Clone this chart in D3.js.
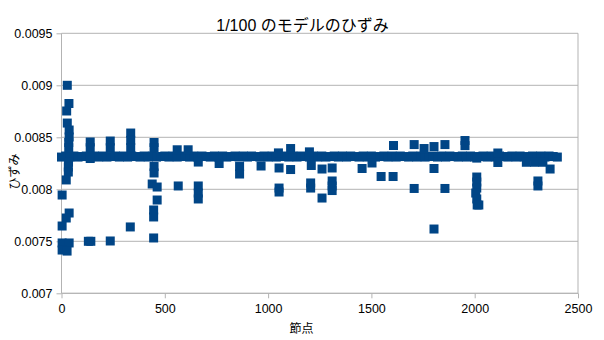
<!DOCTYPE html>
<html>
<head>
<meta charset="utf-8">
<script src="https://cdn.jsdelivr.net/npm/d3@7/dist/d3.min.js"></script>
<style>
  html, body { margin: 0; padding: 0; background: #fff; }
  svg { display: block; }
  text { font-family: "Liberation Sans", "Noto Sans CJK JP", sans-serif; fill: #000; }
</style>
</head>
<body>
<svg id="chart" width="604" height="340"></svg>
<script>
// Strain per node for the 1/100 model
const titleText = "1/100 のモデルのひずみ";
const xTitle = "節点";
const yTitle = "ひずみ";

const xTicks = [0, 500, 1000, 1500, 2000, 2500];
const yTicks = [0.007, 0.0075, 0.008, 0.0085, 0.009, 0.0095];
const yTickLabels = ["0.007", "0.0075", "0.008", "0.0085", "0.009", "0.0095"];

// Nodes along the main band
const bandNodes = [
  0, 20, 40, 60, 80, 100, 120, 140, 160, 180,
  200, 220, 240, 260, 280, 300, 320, 340, 360, 380,
  400, 420, 440, 460, 480, 500, 520, 540, 560, 580,
  600, 620, 640, 660, 680, 700, 720, 740, 760, 780,
  800, 820, 840, 860, 880, 900, 920, 940, 960, 980,
  1000, 1020, 1040, 1060, 1080, 1100, 1120, 1140, 1160, 1180,
  1200, 1220, 1240, 1260, 1280, 1300, 1320, 1340, 1360, 1380,
  1400, 1420, 1440, 1460, 1480, 1500, 1520, 1540, 1560, 1580,
  1600, 1620, 1640, 1660, 1680, 1700, 1720, 1740, 1760, 1780,
  1800, 1820, 1840, 1860, 1880, 1900, 1920, 1940, 1960, 1980,
  2000, 2020, 2040, 2060, 2080, 2100, 2120, 2140, 2160, 2180,
  2200, 2220, 2240, 2260, 2280, 2300, 2320, 2340, 2360, 2380,
  2400
];
const bandStrain = [
  0.00831, 0.00832, 0.00831, 0.00832, 0.00831, 0.008315, 0.00832, 0.00831, 0.00832, 0.00831,
  0.00832, 0.00831, 0.008315, 0.00832, 0.00831, 0.00832, 0.00831, 0.00832, 0.008315, 0.00831,
  0.00832, 0.00831, 0.00832, 0.00831, 0.008315, 0.00832, 0.00831, 0.00832, 0.00831, 0.00832,
  0.008315, 0.00831, 0.00832, 0.00831, 0.00832, 0.008315, 0.00831, 0.00832, 0.00831, 0.00832,
  0.00831, 0.008315, 0.00832, 0.00831, 0.00832, 0.00831, 0.00832, 0.008315, 0.00831, 0.00832,
  0.00831, 0.00832, 0.00831, 0.008315, 0.00832, 0.00831, 0.00832, 0.00831, 0.00832, 0.008315,
  0.00831, 0.00832, 0.00831, 0.00832, 0.00831, 0.008315, 0.00832, 0.00831, 0.00832, 0.00831,
  0.00832, 0.008315, 0.00831, 0.00832, 0.00831, 0.00832, 0.00831, 0.008315, 0.00832, 0.00831,
  0.00832, 0.00831, 0.00832, 0.008315, 0.00831, 0.00832, 0.00831, 0.00832, 0.00831, 0.008315,
  0.00832, 0.00831, 0.00832, 0.00831, 0.00832, 0.008315, 0.00831, 0.00832, 0.00831, 0.00832,
  0.00831, 0.008315, 0.00832, 0.00831, 0.00832, 0.00831, 0.00832, 0.008315, 0.00831, 0.00832,
  0.00831, 0.00832, 0.00831, 0.008315, 0.00832, 0.00831, 0.00832, 0.00831, 0.00832, 0.008315,
  0.00831
];

// Nodes whose strain departs from the band
const outNode = [
  28, 36, 25, 28, 37, 37, 35, 35, 34, 33, 33, 23, 3, 37, 23, 3, 3, 37, 3, 27,
  139, 139, 139, 130, 142,
  236, 236, 236,
  335, 335, 335, 333,
  448, 448, 448, 448, 439, 463, 463, 446, 446, 446,
  560, 613, 565,
  662, 662, 662, 662,
  763, 862, 862, 966,
  1050, 1053, 1053, 1053,
  1109, 1109,
  1200, 1209, 1206, 1206,
  1261, 1261,
  1310, 1310, 1310, 1310,
  1455, 1503, 1547, 1605, 1607,
  1707, 1707, 1755,
  1803, 1803, 1803,
  1856, 1856,
  1953, 1953,
  2010, 2010, 2010, 2010, 2005, 2010, 2020, 2012,
  2112, 2112,
  2250, 2290, 2330,
  2306, 2306, 2365
];
const outStrain = [
  0.00900, 0.008825, 0.008753, 0.008637, 0.00857, 0.008503, 0.00845, 0.0084, 0.00826, 0.008214, 0.008166, 0.00809, 0.007945, 0.007772, 0.007724, 0.007647, 0.007484, 0.007484, 0.007416, 0.007406,
  0.008455, 0.0084, 0.008296, 0.0075, 0.0075,
  0.008464, 0.0084, 0.007503,
  0.008541, 0.00847, 0.0084, 0.007638,
  0.00845, 0.0084, 0.008219, 0.008157, 0.008051, 0.008022, 0.007897, 0.007801, 0.007734, 0.007532,
  0.00838, 0.00838, 0.008032,
  0.008262, 0.008032, 0.007964, 0.007907,
  0.008248, 0.008219, 0.008147, 0.008224,
  0.00835, 0.008205, 0.008012, 0.007974,
  0.008392, 0.00819,
  0.00836, 0.008229, 0.008061, 0.008012,
  0.008195, 0.007916,
  0.008205, 0.00808, 0.008032, 0.007988,
  0.0082, 0.008253, 0.008123, 0.008123, 0.008421,
  0.00843, 0.008008, 0.008392,
  0.008411, 0.0082, 0.007618,
  0.00843, 0.008008,
  0.008469, 0.00842,
  0.0083, 0.008118, 0.00807, 0.008012, 0.007964, 0.007907, 0.007849, 0.007849,
  0.008349, 0.008258,
  0.00826, 0.00826, 0.00826,
  0.00808, 0.008032, 0.008195
];

const points = bandNodes.map((n, i) => ({ node: n, strain: bandStrain[i] }))
  .concat(outNode.map((n, i) => ({ node: n, strain: outStrain[i] })));

const svg = d3.select("#chart");
const plotLeft = 61.5, plotRight = 578, plotTop = 33.3, plotBottom = 293.3;
const gridColor = "#b3b3b3";
const markColor = "#004586";
const markSize = 9;

const x = d3.scaleLinear().domain([0, 2500]).range([plotLeft, plotRight]);
const y = d3.scaleLinear().domain([0.007, 0.0095]).range([plotBottom, plotTop]);

svg.append("rect").attr("width", 604).attr("height", 340).attr("fill", "#fff");

// Horizontal grid
svg.append("g")
  .selectAll("line")
  .data(yTicks)
  .join("line")
  .attr("x1", plotLeft).attr("x2", plotRight)
  .attr("y1", d => y(d)).attr("y2", d => y(d))
  .attr("stroke", gridColor).attr("stroke-width", 1);

// Right border of the plot area
svg.append("line")
  .attr("x1", plotRight).attr("x2", plotRight)
  .attr("y1", plotTop).attr("y2", plotBottom)
  .attr("stroke", gridColor);

// Y axis
const yAxis = d3.axisLeft(y)
  .tickValues(yTicks)
  .tickFormat((d, i) => yTickLabels[i])
  .tickSize(5)
  .tickPadding(4);
const gy = svg.append("g").attr("transform", `translate(${plotLeft},0)`).call(yAxis);

// X axis
const xAxis = d3.axisBottom(x)
  .tickValues(xTicks)
  .tickFormat(d3.format("d"))
  .tickSize(5)
  .tickPadding(6);
const gx = svg.append("g").attr("transform", `translate(0,${plotBottom})`).call(xAxis);

[gx, gy].forEach(g => {
  g.select(".domain").attr("stroke", gridColor);
  g.selectAll(".tick line").attr("stroke", gridColor);
  g.selectAll(".tick text")
    .attr("fill", "#000")
    .style("font-family", "'Liberation Sans', sans-serif")
    .style("font-size", "12.5px");
});
// Plain axis lines without end caps
gy.select(".domain").attr("d", `M0,${plotTop}V${plotBottom}`);
gx.select(".domain").attr("d", `M${plotLeft},0H${plotRight}`);

// Markers
svg.append("g")
  .selectAll("rect")
  .data(points)
  .join("rect")
  .attr("x", d => x(d.node) - markSize / 2)
  .attr("y", d => y(d.strain) - markSize / 2)
  .attr("width", markSize)
  .attr("height", markSize)
  .attr("fill", markColor);

// Titles
svg.append("text")
  .attr("x", 302.5).attr("y", 30.5)
  .attr("text-anchor", "middle")
  .style("font-size", "16px")
  .text(titleText);

svg.append("text")
  .attr("x", 301.5).attr("y", 332.5)
  .attr("text-anchor", "middle")
  .style("font-size", "12px")
  .text(xTitle);

svg.append("text")
  .attr("transform", "translate(19,171.5) rotate(-90)")
  .attr("text-anchor", "middle")
  .style("font-size", "12px")
  .text(yTitle);
</script>
</body>
</html>
